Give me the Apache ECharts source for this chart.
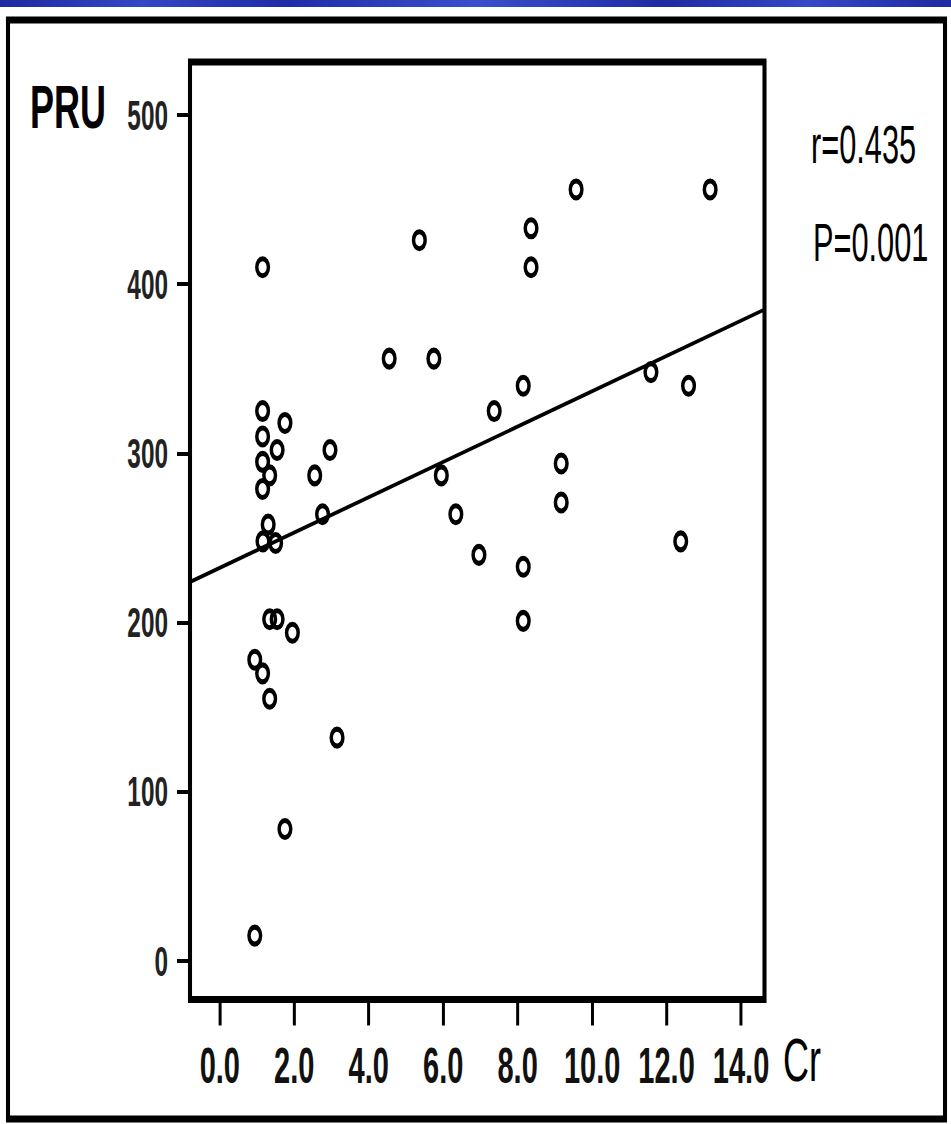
<!DOCTYPE html>
<html><head><meta charset="utf-8">
<script src="https://cdn.jsdelivr.net/npm/echarts@6/dist/echarts.min.js"></script>
<style>
html,body{margin:0;padding:0;background:#fff;overflow:hidden;}
#wrap{width:951px;height:1124px;overflow:hidden;position:relative;background:#fff;}
#chart{height:1124px;transform-origin:0 0;position:absolute;left:0;top:0;}
</style></head><body>
<div id="wrap"><div id="chart"></div></div>
<script>
// ---- data ----
const crValues  = [1.15,1.15,1.75,1.15,1.54,2.96,1.15,1.34,2.55,1.15,2.76,1.30,1.16,1.50,1.34,1.54,1.95,0.94,1.15,1.34,3.15,1.75,0.94,
                   9.57,5.36,8.36,8.36,4.55,5.75,8.15,7.37,11.58,5.95,9.17,9.17,6.34,6.96,8.15,8.15,13.17,12.59,12.38];
const pruValues = [410,325,318,310,302,302,295,287,287,279,264,258,248,247,202,202,194,178,170,155,132,78,15,
                   456,426,433,410,356,356,340,325,348,287,294,271,264,240,233,201,456,340,248];
const xTicks = [0,2,4,6,8,10,12,14];
const yTicks = [0,100,200,300,400,500];
const regLineCr  = [-0.8, 14.63];
const regLinePru = [224, 385];
const xName = 'Cr';
const yName = 'PRU';
const statTexts = ['r=0.435', 'P=0.001'];

// ---- horizontal compression of the original picture ----
const S = 0.58;
const W = 951 / S;
const px = v => v / S;
const el = document.getElementById('chart');
el.style.width = W + 'px';
el.style.transform = 'scaleX(' + S + ')';
const chart = echarts.init(el, null, {renderer: 'svg', width: W, height: 1124});
const FONT = '"Liberation Sans", Arial, Helvetica, sans-serif';

const option = {
  backgroundColor: '#fff',
  animation: false,
  grid: {
    left: px(190), right: px(951 - 764.5), top: 62, bottom: 124.5,
    show: true, borderColor: '#000', borderWidth: 7, backgroundColor: 'transparent'
  },
  xAxis: {
    type: 'value', min: -0.8, max: 14.63,
    splitLine: {show: false},
    axisLine: {show: false, onZero: false},
    axisTick: {show: true, inside: false, length: 26, customValues: xTicks,
               lineStyle: {color: '#000', width: px(3)}},
    axisLabel: {customValues: xTicks, formatter: v => Number(v).toFixed(1), margin: 41,
                color: '#111', fontFamily: FONT, fontSize: 50, fontWeight: 'bold'}
  },
  yAxis: {
    type: 'value', min: -22.75, max: 531.3,
    splitLine: {show: false},
    axisLine: {show: false, onZero: false},
    axisTick: {show: true, inside: false, length: px(13), customValues: yTicks,
               lineStyle: {color: '#000', width: 4}},
    axisLabel: {customValues: yTicks, margin: px(22), color: '#222',
                fontFamily: FONT, fontSize: 42, fontWeight: 'bold'}
  },
  series: [
    {
      type: 'line', z: 2, symbol: 'none', silent: true,
      data: regLineCr.map((x, i) => [x, regLinePru[i]]),
      lineStyle: {color: '#000', width: 4}
    },
    {
      type: 'scatter', z: 3,
      symbol: 'path://M50,0 A50,50 0 1,1 50,100 A50,50 0 1,1 50,0 Z',
      symbolSize: [20, 17],
      data: crValues.map((x, i) => [x, pruValues[i]]),
      itemStyle: {color: 'transparent', borderColor: '#000', borderWidth: 5.5, opacity: 1}
    }
  ],
  graphic: [
    {type: 'rect', silent: true, z: 0,
     shape: {x: 0, y: 0, width: W, height: 7},
     style: {fill: new echarts.graphic.LinearGradient(0, 0, 1, 0, [
        {offset: 0, color: '#1d2aa0'}, {offset: 0.15, color: '#3346c4'},
        {offset: 0.3, color: '#1f2ca6'}, {offset: 0.5, color: '#3a4fcc'},
        {offset: 0.7, color: '#1e2ba3'}, {offset: 0.85, color: '#3548c6'},
        {offset: 1, color: '#1d2aa0'}])}},
    {type: 'rect', silent: true, z: 0,
     shape: {x: px(8), y: 20, width: px(945) - px(8), height: 1119 - 20},
     style: {fill: 'none', stroke: '#000', lineWidth: 7}},
    {type: 'text', x: px(30), y: 107, silent: true,
     style: {text: yName, fill: '#000', fontFamily: FONT, fontSize: 62, fontWeight: 'bold',
             align: 'left', verticalAlign: 'middle'}},
    {type: 'text', x: px(783), y: 1060, silent: true,
     style: {text: xName, fill: '#000', fontFamily: FONT, fontSize: 62,
             align: 'left', verticalAlign: 'middle'}},
    {type: 'text', x: px(811), y: 145, silent: true,
     style: {text: statTexts[0], fill: '#000', fontFamily: FONT, fontSize: 53,
             align: 'left', verticalAlign: 'middle'}},
    {type: 'text', x: px(813), y: 243, silent: true,
     style: {text: statTexts[1], fill: '#000', fontFamily: FONT, fontSize: 53,
             align: 'left', verticalAlign: 'middle'}}
  ]
};
chart.setOption(option);
</script>
</body></html>
